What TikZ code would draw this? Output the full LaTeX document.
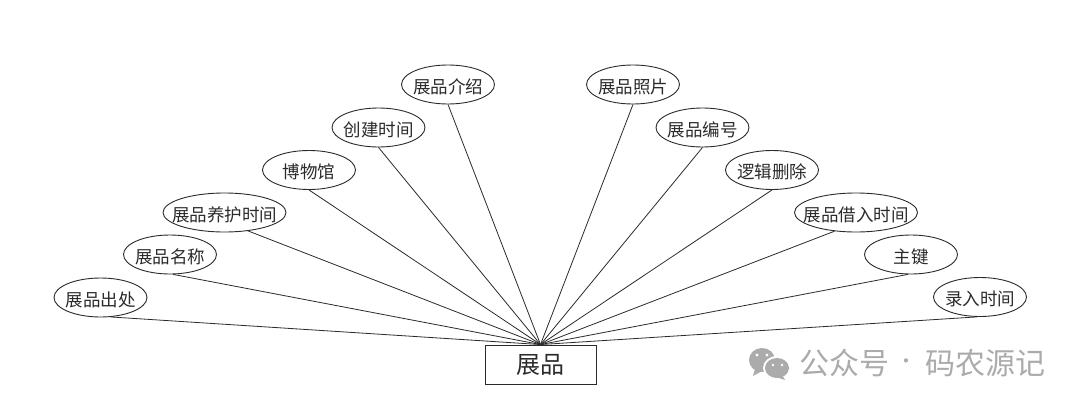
\documentclass[tikz,border=0pt]{standalone}
\usepackage{fontspec}
\setmainfont{Noto Sans CJK SC}
\usetikzlibrary{shapes.geometric}
\definecolor{ink}{HTML}{2B2B2B}
\definecolor{wmgray}{HTML}{ABABAB}
\tikzset{
  attr/.style={ellipse,draw=ink,line width=0.9pt,inner xsep=-30pt,inner ysep=-12pt,text height=19pt,text depth=2pt,minimum width=#1,minimum height=39pt,text=ink,font=\fontsize{17.5}{20}\selectfont},
  attr/.default=93pt,
  entitybox/.style={rectangle,draw=ink,line width=0.9pt,inner sep=0pt,minimum width=111pt,minimum height=39pt,text=ink,font=\fontsize{24}{26}\selectfont},
  link/.style={draw=ink,line width=0.8pt},
  wmtext/.style={text=wmgray,inner sep=0pt,font=\fontsize{30}{32}\selectfont},
  wmdot/.style={text=wmgray,inner sep=0pt,font=\fontsize{20}{22}\selectfont}
}
\begin{document}
\begin{tikzpicture}[x=1pt,y=-1pt]
\useasboundingbox (0,0) rectangle (1080,407);
\fill[white] (0,0) rectangle (1080,407);
\node[entitybox] (root) at (540.5,364.5) {展品};
\node[attr] (a1) at (100.5,297.5) {展品出处};
\node[attr] (a2) at (170,254.5) {展品名称};
\node[attr=123pt] (a3) at (224.5,212.5) {展品养护时间};
\node[attr] (a4) at (309,170) {博物馆};
\node[attr] (a5) at (378.5,127.5) {创建时间};
\node[attr] (a6) at (448,84.5) {展品介绍};
\node[attr] (b6) at (633,84.5) {展品照片};
\node[attr] (b5) at (702.5,127.5) {展品编号};
\node[attr] (b4) at (772,170) {逻辑删除};
\node[attr=123pt] (b3) at (856,212.5) {展品借入时间};
\node[attr] (b2) at (911,254.5) {主键};
\node[attr] (b1) at (980,297) {录入时间};
\draw[link] (root.north) -- (a1.-62);
\draw[link] (root.north) -- (a2.-81);
\draw[link] (root.north) -- (a3.-38);
\draw[link] (root.north) -- (a4.south);
\draw[link] (root.north) -- (a5.south);
\draw[link] (root.north) -- (a6.south);
\draw[link] (root.north) -- (b6.south);
\draw[link] (root.north) -- (b5.south);
\draw[link] (root.north) -- (b4.south);
\draw[link] (root.north) -- (b3.-139);
\draw[link] (root.north) -- (b2.-99);
\draw[link] (root.north) -- (b1.-99);
% watermark icon
\fill[wmgray] (762,360) ellipse [x radius=13,y radius=12];
\fill[wmgray] (755,369) -- (753,376) -- (762,371) -- cycle;
\fill[white] (777,368) ellipse [x radius=14,y radius=12];
\fill[wmgray] (777,368) ellipse [x radius=12,y radius=10];
\fill[wmgray] (782,375) -- (785,380) -- (776,377) -- cycle;
\fill[white] (757,355) circle (1.6) (767,355) circle (1.6) (773,365) circle (1.4) (782,365) circle (1.4);
\node[wmtext,anchor=west] (wm1) at (799,363) {公众号};
\node[wmdot,anchor=center] (wm2) at (906,364) {·};
\node[wmtext,anchor=west] (wm3) at (925,363) {码农源记};
\end{tikzpicture}
\end{document}
